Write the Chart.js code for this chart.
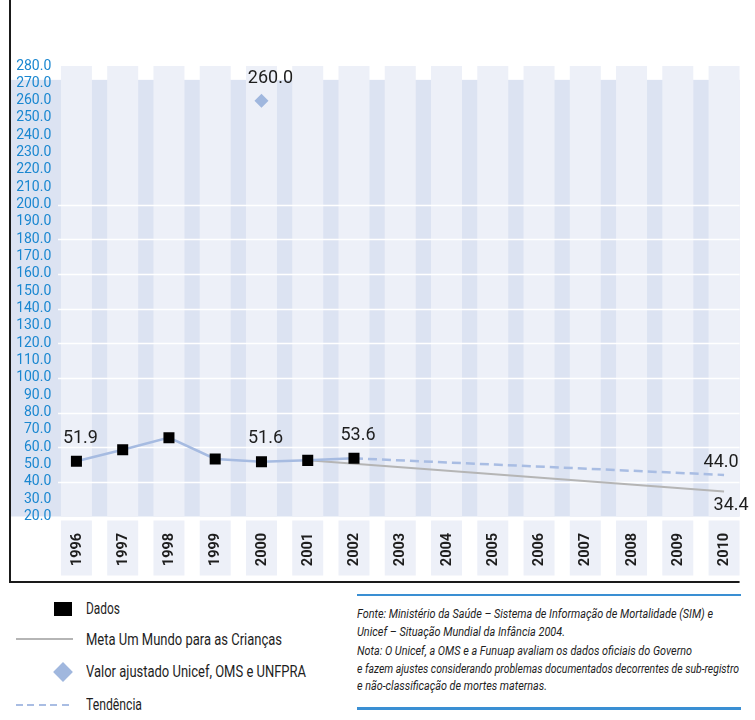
<!DOCTYPE html>
<html>
<head>
<meta charset="utf-8">
<script src="https://cdn.jsdelivr.net/npm/chart.js@4.4.1/dist/chart.umd.min.js"></script>
<style>
  html, body { margin: 0; padding: 0; background: #fff; }
  body { width: 755px; height: 720px; position: relative; overflow: hidden; font-family: Roboto, "DejaVu Sans", sans-serif; }
  #wrap { position: absolute; left: 0; top: 0; width: 755px; height: 584px; }
  .fit { position: absolute; white-space: nowrap; display: inline-block; transform-origin: 0 50%; color: #1e1e1e; }
  .leg { font-size: 16px; line-height: 18px; }
  .note { font-size: 13.5px; font-style: italic; line-height: 16px; }
  .mk { position: absolute; }
</style>
</head>
<body>
<div id="wrap"><canvas id="c"></canvas></div>
<div id="legend"></div>
<div id="note"></div>
<script>
// ---------------- data ----------------
const years = ['1996','1997','1998','1999','2000','2001','2002','2003','2004','2005','2006','2007','2008','2009','2010'];
const dados      = [51.9, 58.5, 65.5, 53.2, 51.6, 52.4, 53.6, null, null, null, null, null, null, null, null];
const meta       = [null, null, null, null, null, 52.4, null, null, null, null, null, null, null, null, 34.4];
const tendencia  = [null, null, null, null, null, null, 53.6, null, null, null, null, null, null, null, 44.0];
const ajustado   = [null, null, null, null, 260.0, null, null, null, null, null, null, null, null, null, null];
const yMin = 20, yMax = 280, yStep = 10;
const gridValues = [40, 60, 80, 100, 120, 140, 160, 180, 200];
const seriesNames = ['Dados', 'Meta Um Mundo para as Crianças', 'Valor ajustado Unicef, OMS e UNFPRA', 'Tendência'];
const noteLines = [
  'Fonte: Ministério da Saúde – Sistema de Informação de Mortalidade (SIM) e',
  'Unicef – Situação Mundial da Infância 2004.',
  'Nota: O Unicef, a OMS e a Funuap avaliam os dados oficiais do Governo',
  'e fazem ajustes considerando problemas documentados decorrentes de sub-registro',
  'e não-classificação de mortes maternas.'
];

// ---------------- colours ----------------
const C_BAND = '#dce3f2', C_COL = '#edf0f8', C_LINE = '#a6bbe1', C_DIAM = '#a0b7de',
      C_DASH = '#a9bde3', C_META = '#b5b5b5', C_TICK = '#1a87d0', C_TXT = '#1e1e1e';

// ---------------- background / frame plugin ----------------
const bgPlugin = {
  id: 'bg',
  beforeDraw(chart) {
    const { ctx, scales: { x, y } } = chart;
    const half = 15.5;
    const lastX = x.getPixelForValue(years.length - 1) + half;
    const top = y.getPixelForValue(yMax), bandTop = y.getPixelForValue(272), bottom = y.getPixelForValue(yMin);
    ctx.save();
    ctx.fillStyle = C_BAND;
    ctx.fillRect(11, bandTop, lastX - 11, bottom - bandTop);
    ctx.fillStyle = C_COL;
    years.forEach((lab, i) => {
      const cx = x.getPixelForValue(i);
      ctx.fillRect(cx - half, top, 2 * half, bottom - top);
      ctx.fillRect(cx - half, bottom + 4, 2 * half, 55);
    });
    ctx.strokeStyle = '#ffffff';
    ctx.lineWidth = 1.6;
    gridValues.forEach(v => {
      const py = Math.round(y.getPixelForValue(v)) + 0.5;
      ctx.beginPath(); ctx.moveTo(58, py); ctx.lineTo(lastX, py); ctx.stroke();
    });
    // x labels
    ctx.fillStyle = C_TXT;
    ctx.font = 'bold 14.5px Roboto, "DejaVu Sans", sans-serif';
    ctx.textAlign = 'center'; ctx.textBaseline = 'middle';
    years.forEach((lab, i) => {
      const cx = x.getPixelForValue(i);
      ctx.save(); ctx.translate(cx + 0.5, bottom + 33); ctx.rotate(-Math.PI / 2); ctx.fillText(lab, 0, 0); ctx.restore();
    });
    ctx.restore();
  },
  afterDraw(chart) {
    const { ctx, scales: { x } } = chart;
    const lastX = x.getPixelForValue(years.length - 1) + 15.5;
    ctx.save();
    ctx.strokeStyle = '#1a1a1a'; ctx.lineWidth = 2;
    ctx.beginPath(); ctx.moveTo(10, 0); ctx.lineTo(10, 582); ctx.lineTo(lastX, 582); ctx.stroke();
    ctx.restore();
  }
};

// ---------------- data label plugin ----------------
const labelPlugin = {
  id: 'dlabels',
  afterDatasetsDraw(chart) {
    const { ctx } = chart;
    ctx.save();
    ctx.fillStyle = C_TXT;
    ctx.font = '18px Roboto, "DejaVu Sans", sans-serif';
    ctx.textAlign = 'center'; ctx.textBaseline = 'middle';
    chart.data.datasets.forEach((ds, di) => {
      if (!ds.dl) return;
      const meta = chart.getDatasetMeta(di);
      ds.dl.idx.forEach(i => {
        const p = meta.data[i];
        ctx.fillText(ds.data[i].toFixed(1), p.x + ds.dl.dx, p.y + ds.dl.dy);
      });
    });
    ctx.restore();
  }
};

new Chart(document.getElementById('c'), {
  type: 'line',
  data: {
    labels: years,
    datasets: [
      { label: seriesNames[0], data: dados, borderColor: C_LINE, borderWidth: 2.5, pointStyle: 'rect',
        pointRadius: 7.8, pointBackgroundColor: '#000', pointBorderWidth: 0, tension: 0,
        dl: { idx: [0, 4, 6], dx: 4, dy: -23 } },
      { label: seriesNames[1], data: meta, borderColor: C_META, borderWidth: 2, pointRadius: 0, spanGaps: true,
        dl: { idx: [14], dx: 7, dy: 14 } },
      { label: seriesNames[2], data: ajustado, showLine: false, pointStyle: 'rectRot', pointRadius: 7,
        pointBackgroundColor: C_DIAM, pointBorderWidth: 0,
        dl: { idx: [4], dx: 9, dy: -22 } },
      { label: seriesNames[3], data: tendencia, borderColor: C_DASH, borderWidth: 2.5, borderDash: [9, 5],
        pointRadius: 0, spanGaps: true,
        dl: { idx: [14], dx: -3, dy: -12 } }
    ]
  },
  options: {
    responsive: true, maintainAspectRatio: false, animation: false,
    layout: { padding: { left: 10, right: 6.3, top: 66, bottom: 67.5 } },
    plugins: { legend: { display: false }, tooltip: { enabled: false }, title: { display: false } },
    scales: {
      x: { type: 'category', offset: true, display: false },
      y: {
        min: yMin, max: yMax,
        grid: { display: false, drawTicks: false }, border: { display: false },
        afterFit(s) { s.width = 43.3; },
        ticks: { stepSize: yStep, autoSkip: false, maxTicksLimit: 100, padding: 2, color: C_TICK,
                 font: { family: 'Roboto, "DejaVu Sans", sans-serif', size: 14 },
                 callback: v => Number(v).toFixed(1) }
      }
    }
  },
  plugins: [bgPlugin, labelPlugin]
});

// ---------------- legend & note (HTML) ----------------
const legend = document.getElementById('legend');
function mk(style) { const d = document.createElement('div'); d.className = 'mk'; d.style.cssText = style; legend.appendChild(d); }
mk('left:54px;top:602px;width:18px;height:14px;background:#000;');
mk('left:16px;top:638px;width:57px;height:2px;background:' + C_META + ';');
mk('left:56px;top:665px;width:14px;height:14px;background:' + C_DIAM + ';transform:rotate(45deg);');
mk('left:16px;top:704px;width:57px;height:2px;background:repeating-linear-gradient(90deg,' + C_DASH + ' 0 7px, transparent 7px 11.5px);');

function fitText(parent, text, cls, left, cy, target) {
  const s = document.createElement('span');
  s.className = 'fit ' + cls; s.textContent = text;
  parent.appendChild(s);
  s.style.left = left + 'px';
  s.style.top = (cy - s.offsetHeight / 2) + 'px';
  const w = s.getBoundingClientRect().width;
  s.style.transform = 'scaleX(' + (target / w) + ')';
}
const legY = [609, 640, 672, 705], legW = [34, 196, 220, 56];
seriesNames.forEach((t, i) => fitText(legend, t, 'leg', 86, legY[i], legW[i]));

const note = document.getElementById('note');
const nl = document.createElement('div');
nl.style.cssText = 'position:absolute;left:357px;top:594px;width:384px;height:2px;background:#3a8fd3;';
note.appendChild(nl);
const nl2 = document.createElement('div');
nl2.style.cssText = 'position:absolute;left:357px;top:707px;width:384px;height:3px;background:#3a8fd3;';
note.appendChild(nl2);
const noteY = [613, 631, 650, 668, 685], noteW = [356, 208, 335, 382, 190];
noteLines.forEach((t, i) => fitText(note, t, 'note', 357, noteY[i], noteW[i]));
</script>
</body>
</html>
